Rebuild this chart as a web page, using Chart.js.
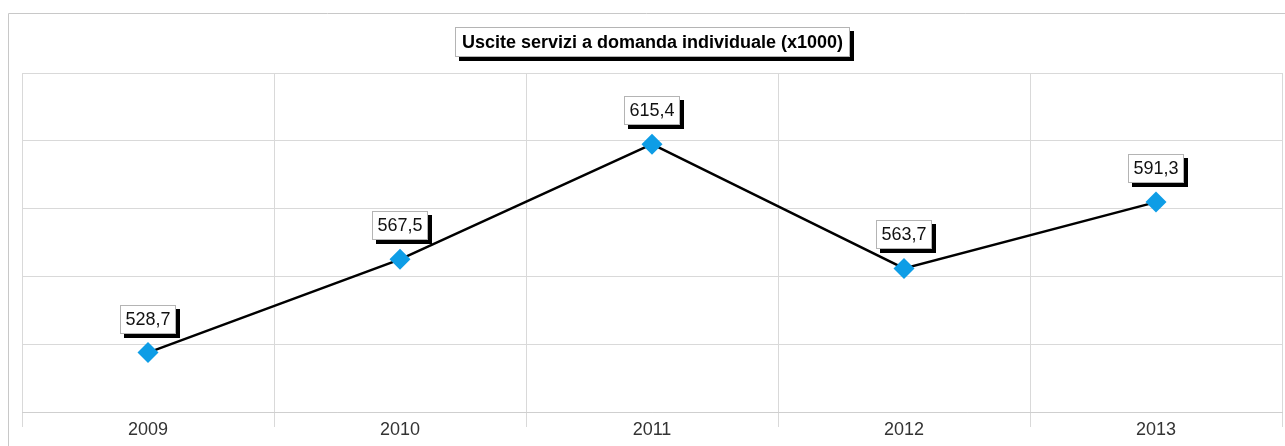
<!DOCTYPE html>
<html>
<head>
<meta charset="utf-8">
<script src="https://cdn.jsdelivr.net/npm/chart.js@4.4.1/dist/chart.umd.min.js"></script>
<style>
  html, body { margin: 0; padding: 0; background: #fff; }
  #wrap { width: 1285px; height: 446px; position: relative; }
</style>
</head>
<body>
<div id="wrap"><canvas id="chart" width="1285" height="446"></canvas></div>
<script>
// Data
const years = ['2009', '2010', '2011', '2012', '2013'];
const spending = [528.7, 567.5, 615.4, 563.7, 591.3];
const yGridValues = [504, 532.2, 560.4, 588.6, 616.8, 645];
const chartTitle = 'Uscite servizi a domanda individuale (x1000)';

const FONT = '"Liberation Sans", Arial, sans-serif';

// box with a hard black drop shadow, like the original
function drawShadowBox(ctx, x, y, w, h) {
    ctx.fillStyle = '#000';
    ctx.fillRect(x + 4, y + 4, w, h);
    ctx.fillStyle = '#fff';
    ctx.fillRect(x, y, w, h);
    ctx.strokeStyle = '#b4b4b4';
    ctx.lineWidth = 1;
    ctx.strokeRect(x + 0.5, y + 0.5, w - 1, h - 1);
}

const framePlugin = {
    id: 'frame',
    beforeDraw: (chart) => {
        const ctx = chart.ctx;
        ctx.save();
        ctx.strokeStyle = '#c8c8c8';
        ctx.lineWidth = 1;
        ctx.beginPath();
        ctx.moveTo(8.5, 446);
        ctx.lineTo(8.5, 13.5);
        ctx.lineTo(1285, 13.5);
        ctx.stroke();
        ctx.restore();
    }
};

const labelsPlugin = {
    id: 'valueBoxes',
    afterDatasetsDraw: (chart) => {
        const ctx = chart.ctx;
        const meta = chart.getDatasetMeta(0);
        ctx.save();
        ctx.font = '18px ' + FONT;
        ctx.textAlign = 'center';
        ctx.textBaseline = 'middle';
        meta.data.forEach((pt, i) => {
            const txt = spending[i].toFixed(1).replace('.', ',');
            const w = Math.round(ctx.measureText(txt).width + 11);
            const h = 29;
            const x = Math.round(pt.x - w / 2);
            const y = Math.round(pt.y - 19 - h);
            drawShadowBox(ctx, x, y, w, h);
            ctx.fillStyle = '#111';
            ctx.fillText(txt, x + w / 2, y + h / 2 + 1);
        });
        ctx.restore();
    },
    afterDraw: (chart) => {
        const ctx = chart.ctx;
        const area = chart.chartArea;
        ctx.save();
        ctx.font = 'bold 18px ' + FONT;
        ctx.textAlign = 'center';
        ctx.textBaseline = 'middle';
        const w = Math.round(ctx.measureText(chartTitle).width + 14);
        const h = 30;
        const cx = (area.left + area.right) / 2;
        const x = Math.round(cx - w / 2);
        const y = 27;
        drawShadowBox(ctx, x, y, w, h);
        ctx.fillStyle = '#000';
        ctx.fillText(chartTitle, x + w / 2, y + h / 2 + 1);
        ctx.restore();
    }
};

new Chart(document.getElementById('chart'), {
    type: 'line',
    data: {
        labels: years,
        datasets: [{
            data: spending,
            borderColor: '#000',
            borderWidth: 2.5,
            tension: 0,
            pointStyle: 'rectRot',
            pointRadius: 10.5,
            pointHoverRadius: 10.5,
            pointBackgroundColor: '#0e9de6',
            pointBorderColor: '#0e9de6',
            pointBorderWidth: 0,
            clip: false
        }]
    },
    options: {
        responsive: false,
        devicePixelRatio: 1,
        animation: false,
        events: [],
        layout: { autoPadding: false, padding: { top: 73, left: 22, right: 3, bottom: 0 } },
        plugins: {
            legend: { display: false },
            title: { display: false },
            tooltip: { enabled: false }
        },
        scales: {
            x: {
                offset: true,
                grid: { offset: true, color: '#d9d9d9', tickLength: 15, tickColor: '#d9d9d9' },
                border: { color: '#cfcfcf' },
                ticks: { color: '#333', font: { family: FONT, size: 18 }, padding: -8 },
                afterFit: (s) => { s.height = 34; }
            },
            y: {
                min: yGridValues[0],
                max: yGridValues[yGridValues.length - 1],
                afterBuildTicks: (s) => { s.ticks = yGridValues.map(v => ({ value: v })); },
                grid: { color: '#d9d9d9', drawTicks: false },
                border: { display: false },
                ticks: { display: false },
                afterFit: (s) => { s.width = 0; }
            }
        }
    },
    plugins: [framePlugin, labelsPlugin]
});
</script>
</body>
</html>
